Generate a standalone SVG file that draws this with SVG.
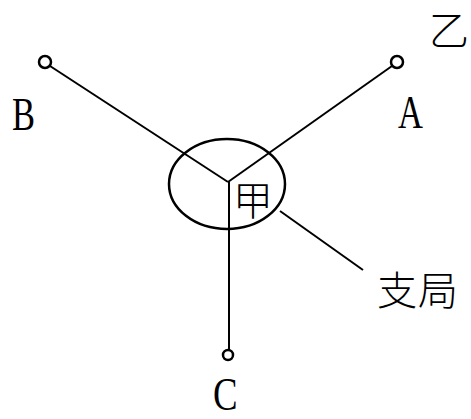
<svg xmlns="http://www.w3.org/2000/svg" width="471" height="419" viewBox="0 0 471 419">
<style>
.ln{stroke:#000;stroke-width:2;fill:none}
.nd{stroke:#000;stroke-width:2.5;fill:#fff}
.lat{font-family:"Liberation Serif",serif;font-size:46px;fill:#000}
.cjk{font-family:"Noto Sans CJK SC",sans-serif;font-size:40px;fill:#000;font-weight:300}
</style>
<rect width="471" height="419" fill="#fff"/>
<g id="connectors">
<line class="ln" x1="50" y1="66" x2="228" y2="182"/>
<line class="ln" x1="392" y1="66" x2="228" y2="182"/>
<line class="ln" x1="229" y1="182" x2="229" y2="350"/>
<line class="ln" x1="280" y1="211" x2="363" y2="270"/>
</g>
<g id="jia">
<ellipse cx="227" cy="184" rx="58" ry="45" stroke="#000" stroke-width="2.5" fill="none"/>
<text class="cjk" x="233" y="215" font-size="41">甲</text>
</g>
<g id="B">
<circle class="nd" cx="45" cy="62" r="6"/>
<text class="lat" transform="translate(12,130) scale(0.75,1)">B</text>
</g>
<g id="A">
<circle class="nd" cx="397" cy="62" r="6"/>
<text class="lat" transform="translate(398,128) scale(0.75,1)">A</text>
</g>
<g id="C">
<circle class="nd" cx="228" cy="355" r="5"/>
<text class="lat" font-size="40" transform="translate(213,410) scale(0.8,1)">C</text>
</g>
<g id="yi">
<text class="cjk" x="429" y="45" font-size="33">乙</text>
</g>
<g id="zhiju">
<text class="cjk" x="377" y="305" font-size="45" letter-spacing="1">支局</text>
</g>
</svg>
